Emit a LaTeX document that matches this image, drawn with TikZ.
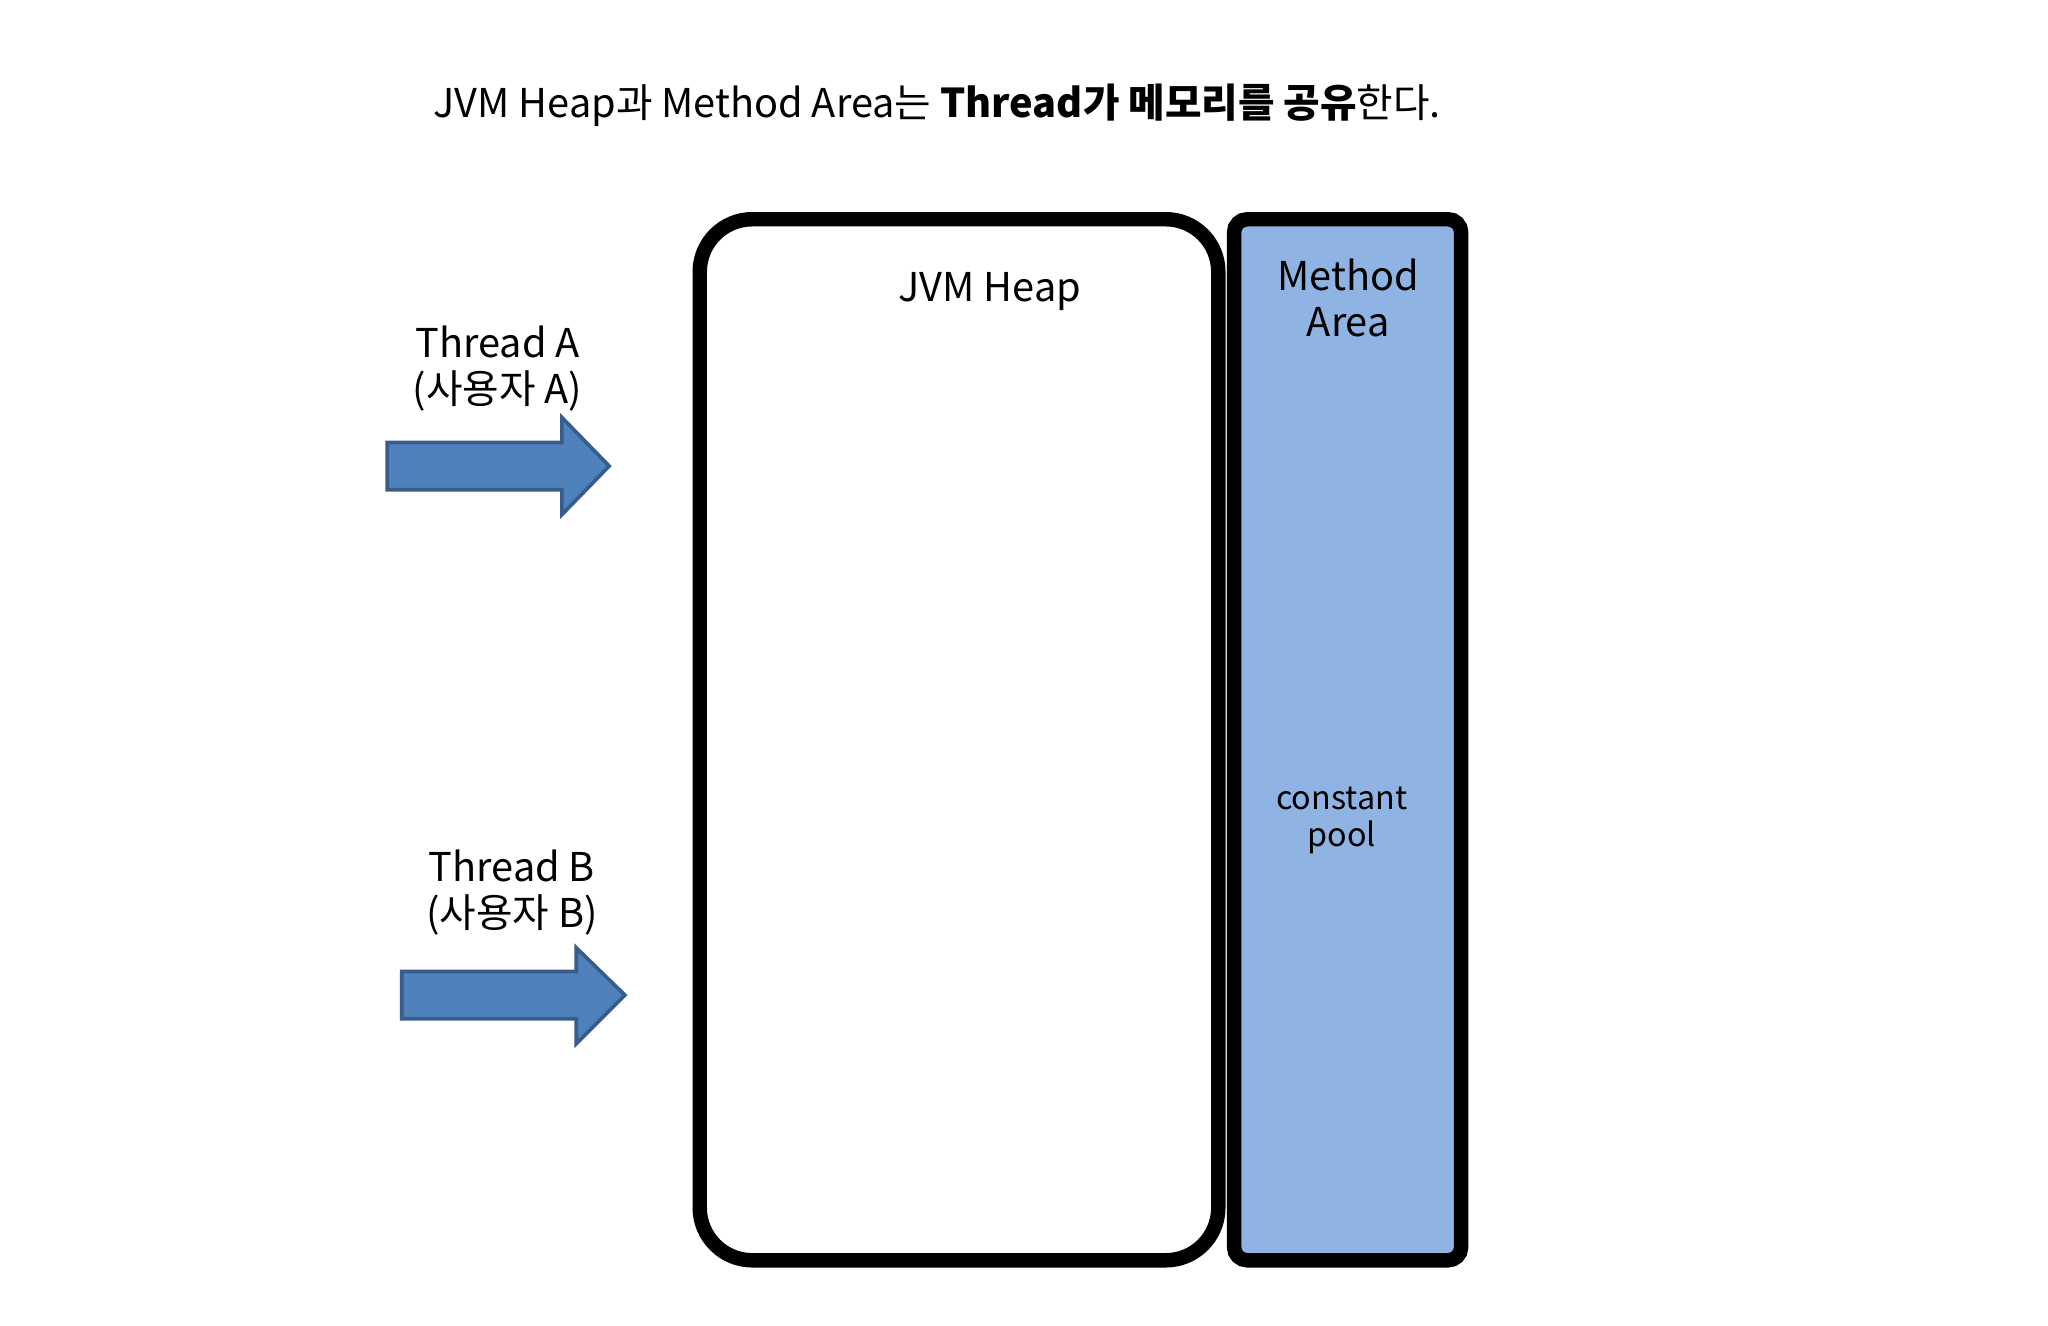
\documentclass[tikz,border=0pt]{standalone}
\usepackage{fontspec}
\setmainfont{Noto Sans CJK KR}
\definecolor{maf}{HTML}{8FB4E3}
\definecolor{arf}{HTML}{4F81BD}
\definecolor{ard}{HTML}{385D8A}
\begin{document}
\begin{tikzpicture}[x=0.01cm,y=-0.01cm,
  lbl/.style={font=\fontsize{8.6pt}{10pt}\selectfont,align=center,inner sep=0},
  small/.style={font=\fontsize{7pt}{8.2pt}\selectfont,align=center,inner sep=0},
  arrowshape/.style={fill=arf,draw=ard,line width=0.8pt}]
\useasboundingbox (0,0) rectangle (1560,1010);
\node[lbl] (title) at (714,80) {JVM Heap과 Method Area는 \textbf{Thread가 메모리를 공유}한다.};
\draw[line width=1.1mm,rounded corners=4mm] (533,167) rectangle (928,960);
\node[lbl] (heap) at (754,222) {JVM Heap};
\draw[fill=maf,line width=1.1mm,rounded corners=1mm] (940,167) rectangle (1113,960);
\node[lbl] (ma) at (1027,227) {Method\\Area};
\node[small] (cp) at (1022,625) {constant\\pool};
\node[lbl] (ta) at (379,281) {Thread A\\(사용자 A)};
\draw[arrowshape] (295,337) -- (428,337) -- (428,318) -- (464,355) -- (428,392) -- (428,373) -- (295,373) -- cycle;
\node[lbl] (tb) at (390,680) {Thread B\\(사용자 B)};
\draw[arrowshape] (306,740) -- (439,740) -- (439,722) -- (476,758) -- (439,795) -- (439,776) -- (306,776) -- cycle;
\end{tikzpicture}
\end{document}
